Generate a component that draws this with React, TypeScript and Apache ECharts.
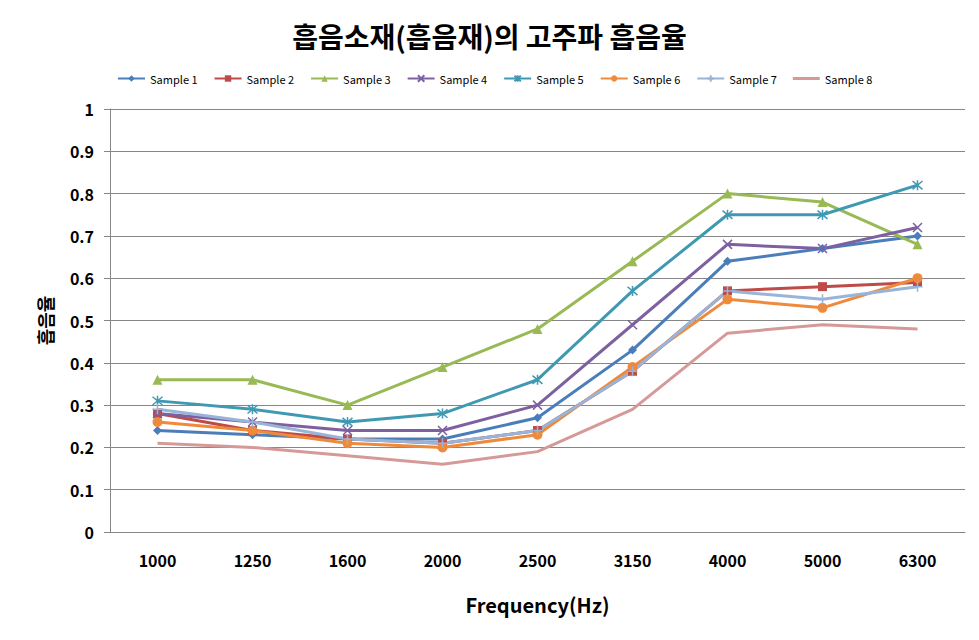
import React, { useEffect, useRef } from "react";
import * as echarts from "echarts";

const categories = ["1000", "1250", "1600", "2000", "2500", "3150", "4000", "5000", "6300"];
const seriesNames = ["Sample 1", "Sample 2", "Sample 3", "Sample 4", "Sample 5", "Sample 6", "Sample 7", "Sample 8"];
const sample1 = [0.24, 0.23, 0.22, 0.22, 0.27, 0.43, 0.64, 0.67, 0.70];
const sample2 = [0.28, 0.24, 0.22, 0.21, 0.24, 0.38, 0.57, 0.58, 0.59];
const sample3 = [0.36, 0.36, 0.30, 0.39, 0.48, 0.64, 0.80, 0.78, 0.68];
const sample4 = [0.28, 0.26, 0.24, 0.24, 0.30, 0.49, 0.68, 0.67, 0.72];
const sample5 = [0.31, 0.29, 0.26, 0.28, 0.36, 0.57, 0.75, 0.75, 0.82];
const sample6 = [0.26, 0.24, 0.21, 0.20, 0.23, 0.39, 0.55, 0.53, 0.60];
const sample7 = [0.29, 0.26, 0.22, 0.21, 0.24, 0.38, 0.57, 0.55, 0.58];
const sample8 = [0.21, 0.20, 0.18, 0.16, 0.19, 0.29, 0.47, 0.49, 0.48];
const allData = [sample1, sample2, sample3, sample4, sample5, sample6, sample7, sample8];

const colors = ["#4A7EBB", "#BE4B48", "#98B954", "#7D60A0", "#4099B2", "#EE8A3C", "#98B4D8", "#D59A98"];
const symbols = [
  "diamond",
  "rect",
  "triangle",
  "path://M0,0L10,10M10,0L0,10",
  "path://M0,0L10,10M10,0L0,10M5,-1L5,11",
  "circle",
  "path://M5,0L5,10M0,5L10,5",
  "none",
];
const symbolSizes = [9, 9, 10, 9, 10, 10, 10, 0];

const FONT = "'Noto Sans CJK KR', 'Noto Sans', sans-serif";

export default function App() {
  const ref = useRef<HTMLDivElement>(null);
  useEffect(() => {
    if (!ref.current) return;
    const chart = echarts.init(ref.current, undefined, { renderer: "svg" });
    const series = allData.map((d, i) => ({
      name: seriesNames[i],
      type: "line",
      data: d,
      symbol: symbols[i],
      symbolSize: symbolSizes[i],
      showSymbol: symbols[i] !== "none",
      lineStyle: { color: colors[i], width: 3 },
      itemStyle: {
        color: colors[i],
        borderColor: colors[i],
        borderWidth: i === 3 || i === 4 || i === 6 ? 1.5 : 0,
      },
    }));
    const legendData = seriesNames.map((n, i) =>
      i === 7 ? { name: n, icon: "path://M0,0L27,0L27,3L0,3Z" } : { name: n }
    );
    chart.setOption({
      animation: false,
      backgroundColor: "#ffffff",
      title: {
        text: "흡음소재(흡음재)의 고주파 흡음율",
        left: "center",
        top: 17,
        textStyle: { fontFamily: FONT, fontSize: 28, fontWeight: "bold", color: "#000" },
      },
      legend: {
        data: legendData,
        left: 112,
        top: 68,
        itemWidth: 27,
        itemHeight: 8,
        itemGap: 16,
        symbolKeepAspect: true,
        textStyle: { fontFamily: FONT, fontSize: 11, color: "#000" },
      },
      grid: { left: 110, right: 14, top: 109, bottom: 108, containLabel: false },
      xAxis: {
        type: "category",
        data: categories,
        boundaryGap: true,
        name: "Frequency(Hz)",
        nameLocation: "middle",
        nameGap: 62,
        nameTextStyle: { fontFamily: FONT, fontSize: 20, fontWeight: "bold", color: "#000" },
        axisLine: { lineStyle: { color: "#868686", width: 1 } },
        axisTick: { show: false },
        axisLabel: { fontFamily: FONT, fontSize: 16, fontWeight: "bold", color: "#000", margin: 20 },
      },
      yAxis: {
        type: "value",
        min: 0,
        max: 1,
        interval: 0.1,
        name: "흡음율",
        nameLocation: "middle",
        nameRotate: 90,
        nameGap: 56,
        nameTextStyle: { fontFamily: FONT, fontSize: 18, fontWeight: "bold", color: "#000" },
        axisLine: { show: true, lineStyle: { color: "#868686", width: 1 } },
        axisTick: { show: true, length: 6, lineStyle: { color: "#868686" } },
        splitLine: { lineStyle: { color: "#868686", width: 1 } },
        axisLabel: {
          fontFamily: FONT,
          fontSize: 16,
          fontWeight: "bold",
          color: "#000",
          margin: 16,
          formatter: (v: number) => String(Math.round(v * 10) / 10),
        },
      },
      series,
    });
    return () => chart.dispose();
  }, []);
  return (
    <div
      ref={ref}
      style={{ position: "fixed", left: 0, top: 0, width: 979, height: 640, background: "#fff" }}
    />
  );
}
